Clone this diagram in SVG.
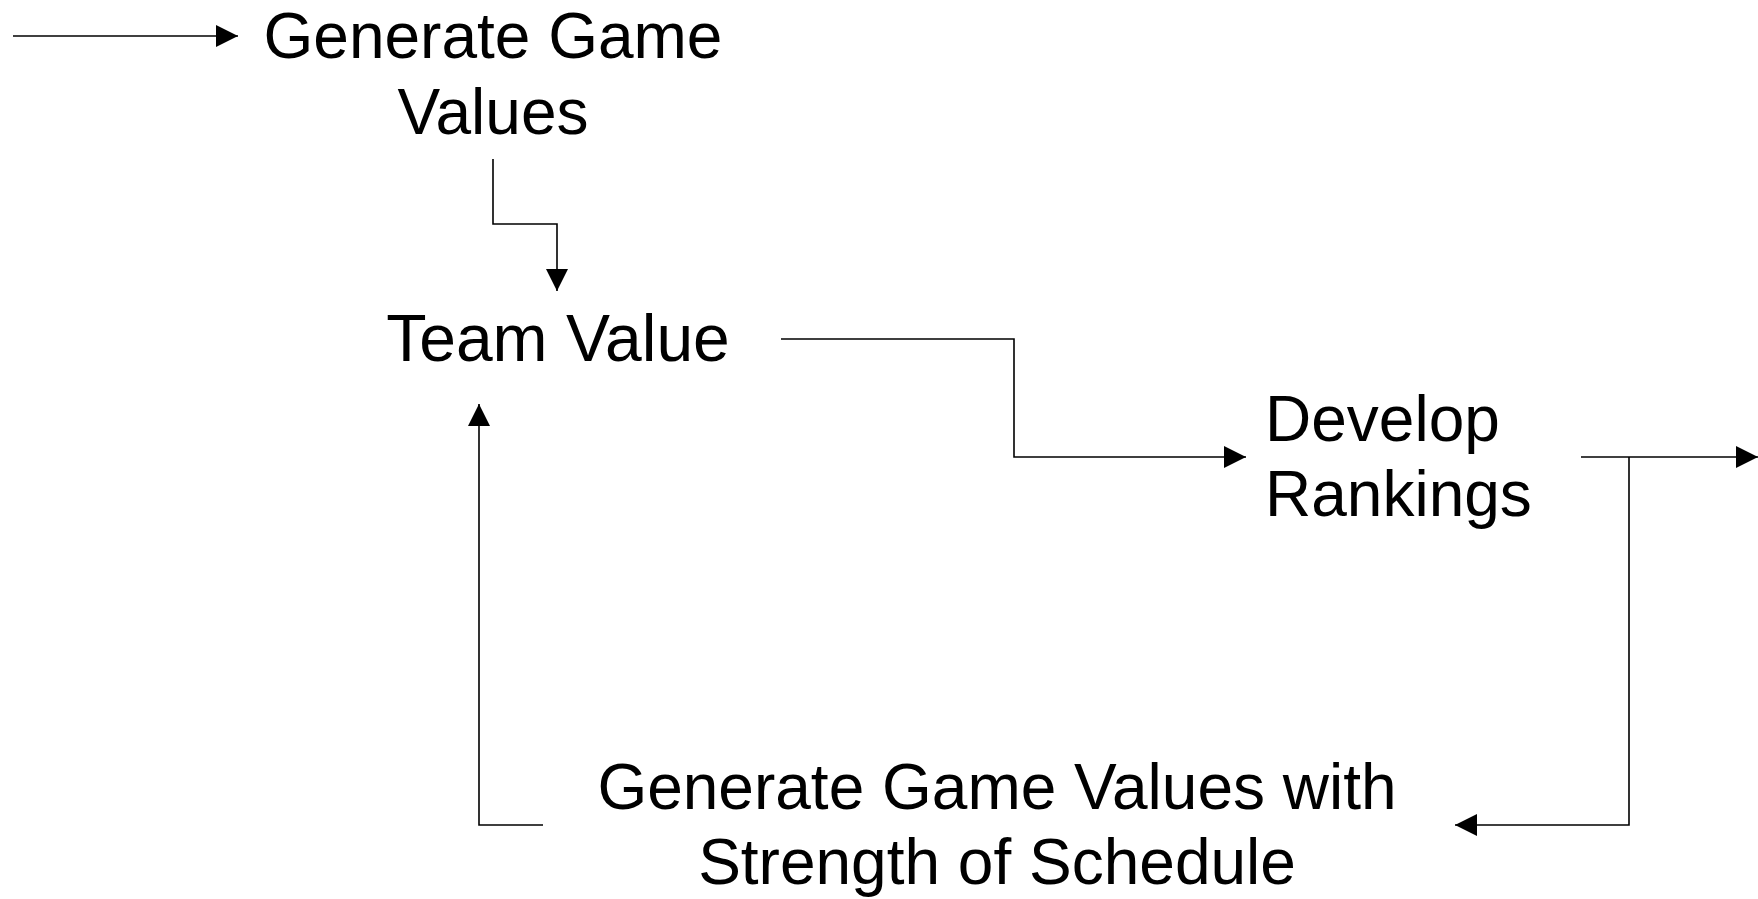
<svg xmlns="http://www.w3.org/2000/svg" width="1758" height="899" viewBox="0 0 1758 899">
<style>
.lbl{font-family:"Liberation Sans",Arial,sans-serif;font-size:64px;fill:#000}
.c{text-anchor:middle}
.conn{fill:none;stroke:#000;stroke-width:1.6}
</style>
<defs>
<marker id="ah" markerUnits="userSpaceOnUse" markerWidth="22" markerHeight="22" viewBox="0 0 22 22" refX="22" refY="11" orient="auto">
<path d="M0,0 L22,11 L0,22 z" fill="#000"/>
</marker>
</defs>
<rect width="1758" height="899" fill="#fff"/>
<g id="connectors">
<path class="conn" d="M13,36 H238" marker-end="url(#ah)"/>
<path class="conn" d="M493,159 V224 H557 V291" marker-end="url(#ah)"/>
<path class="conn" d="M781,339 H1014 V457 H1246" marker-end="url(#ah)"/>
<path class="conn" d="M1581,457 H1758" marker-end="url(#ah)"/>
<path class="conn" d="M1629,457 V825 H1455" marker-end="url(#ah)"/>
<path class="conn" d="M543,825 H479 V404" marker-end="url(#ah)"/>
</g>
<g id="node-generate">
<text class="lbl c" x="493" y="58">Generate Game</text>
<text class="lbl c" x="493" y="134">Values</text>
</g>
<g id="node-team">
<text class="lbl c" x="558" y="361" style="font-size:66px">Team Value</text>
</g>
<g id="node-develop">
<text class="lbl" x="1265" y="441">Develop</text>
<text class="lbl" x="1265" y="516">Rankings</text>
</g>
<g id="node-sos">
<text class="lbl c" x="997" y="809">Generate Game Values with</text>
<text class="lbl c" x="997" y="884">Strength of Schedule</text>
</g>
</svg>
